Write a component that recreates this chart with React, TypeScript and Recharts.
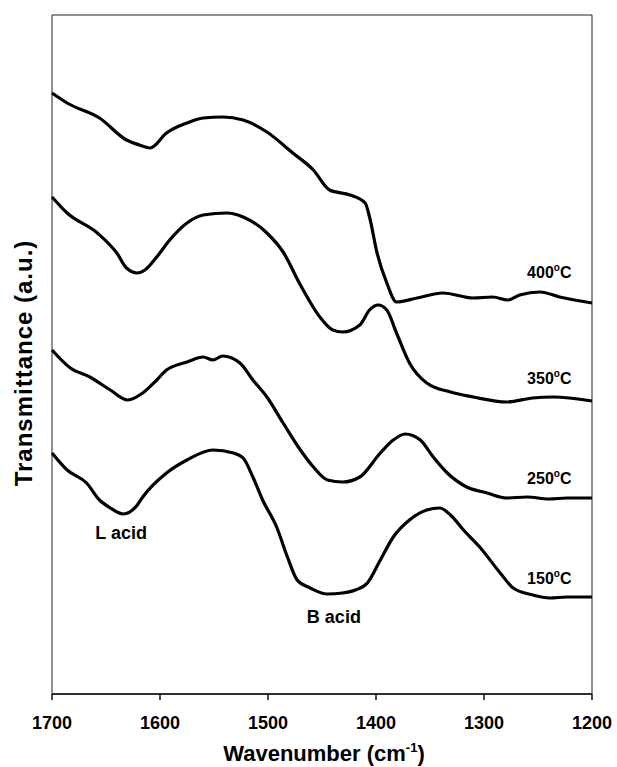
import { LineChart, Line, XAxis, YAxis, ReferenceDot, ReferenceArea } from "recharts";

// wavenumber (cm-1) and transmittance (a.u.)
const wn400 = [1700, 1686, 1656, 1631, 1619, 1609, 1594, 1575, 1560, 1542, 1523, 1501, 1477, 1458, 1443, 1424, 1410, 1406, 1399, 1390, 1381, 1362, 1338, 1310, 1292, 1278, 1267, 1248, 1230, 1200];
const t400 = [601, 591, 576, 554, 549, 546, 561, 571, 576, 577, 574, 562, 541, 524, 504, 499, 491, 477, 441, 411, 392, 396, 401, 396, 397, 394, 399, 402, 397, 391];

const wn350 = [1700, 1686, 1658, 1640, 1631, 1621, 1614, 1603, 1591, 1575, 1560, 1538, 1523, 1501, 1486, 1470, 1452, 1440, 1431, 1415, 1406, 1398, 1390, 1381, 1369, 1353, 1331, 1310, 1279, 1255, 1236, 1200];
const t350 = [497, 481, 461, 441, 426, 421, 424, 437, 454, 471, 479, 481, 477, 461, 442, 409, 377, 364, 362, 369, 384, 389, 384, 361, 331, 311, 302, 297, 292, 296, 297, 293];

const wn250 = [1700, 1683, 1665, 1646, 1630, 1616, 1603, 1594, 1575, 1560, 1551, 1542, 1526, 1514, 1501, 1486, 1470, 1458, 1445, 1431, 1415, 1396, 1384, 1373, 1359, 1347, 1334, 1316, 1297, 1279, 1260, 1240, 1223, 1200];
const t250 = [344, 326, 317, 304, 294, 301, 314, 324, 332, 337, 334, 338, 331, 314, 297, 271, 244, 227, 214, 212, 217, 241, 254, 260, 254, 237, 221, 207, 201, 196, 197, 195, 196, 196];

const wn150 = [1700, 1686, 1668, 1656, 1646, 1634, 1621, 1616, 1594, 1575, 1551, 1532, 1523, 1514, 1505, 1492, 1482, 1473, 1461, 1445, 1431, 1419, 1408, 1396, 1384, 1369, 1353, 1341, 1331, 1319, 1304, 1285, 1273, 1255, 1239, 1223, 1200];
const t150 = [241, 224, 211, 194, 186, 180, 189, 197, 221, 234, 244, 241, 236, 217, 194, 167, 137, 114, 106, 100, 101, 104, 111, 134, 157, 174, 184, 186, 179, 164, 147, 121, 106, 99, 96, 97, 97];

const xTicks = [1700, 1600, 1500, 1400, 1300, 1200];
const xDomain = [1200, 1700];
const yDomain = [0, 679];

const tempLabels = [
  { wn: 1219, t: 416, text: "400" },
  { wn: 1219, t: 310, text: "350" },
  { wn: 1219, t: 210, text: "250" },
  { wn: 1219, t: 110, text: "150" },
];

const acidLabels = [
  { wn: 1636, t: 155, text: "L acid" },
  { wn: 1439, t: 71, text: "B acid" },
];

const toRows = (wn: number[], t: number[]) => wn.map((w, i) => ({ wn: w, t: t[i] }));

const series = [
  { key: "400", rows: toRows(wn400, t400) },
  { key: "350", rows: toRows(wn350, t350) },
  { key: "250", rows: toRows(wn250, t250) },
  { key: "150", rows: toRows(wn150, t150) },
];

const FONT = "Liberation Sans, Arial, sans-serif";

function TempText(props: any) {
  const { cx, cy, text } = props;
  return (
    <text x={cx} y={cy} textAnchor="end" fontFamily={FONT} fontWeight="bold" fontSize={16} fill="#000">
      <tspan>{text}</tspan>
      <tspan fontSize={10} dy={-7}>o</tspan>
      <tspan dy={7}>C</tspan>
    </text>
  );
}

function AcidText(props: any) {
  const { cx, cy, text } = props;
  return (
    <text x={cx} y={cy} textAnchor="middle" fontFamily={FONT} fontWeight="bold" fontSize={18} fill="#000">
      {text}
    </text>
  );
}

function XTitle(props: any) {
  const { viewBox } = props;
  const x = viewBox.x + viewBox.width / 2 + 2;
  const y = viewBox.y + 67;
  return (
    <text x={x} y={y} textAnchor="middle" fontFamily={FONT} fontWeight="bold" fontSize={22} fill="#000">
      <tspan>Wavenumber (cm</tspan>
      <tspan fontSize={13} dy={-9}>-1</tspan>
      <tspan dy={9}>)</tspan>
    </text>
  );
}

// drawn beside the left edge, anchored on the y scale
function YTitle(props: any) {
  const { cx, cy } = props;
  const x = cx - 29;
  const y = cy;
  return (
    <text
      x={x}
      y={y}
      transform={`rotate(-90, ${x}, ${y})`}
      textAnchor="middle"
      dominantBaseline="central"
      fontFamily={FONT}
      fontWeight="bold"
      fontSize={24}
      letterSpacing={1}
      fill="#000"
    >
      Transmittance (a.u.)
    </text>
  );
}

export default function App() {
  return (
    <div style={{ width: 617, height: 767, background: "#fff" }}>
      <style>{`html, body { margin: 0; padding: 0; overflow: hidden; }`}</style>
      <LineChart width={617} height={767} margin={{ top: 15, right: 25, bottom: 43, left: 52 }}>
        <XAxis
          dataKey="wn"
          type="number"
          domain={xDomain}
          reversed
          ticks={xTicks}
          height={30}
          tickSize={6}
          tickMargin={16}
          stroke="#111"
          strokeWidth={1.5}
          tick={{ fill: "#000", fontSize: 18, fontWeight: "bold", fontFamily: FONT }}
          label={<XTitle />}
        />
        <YAxis type="number" domain={yDomain} hide />
        <ReferenceArea
          x1={1700}
          x2={1200}
          y1={0}
          y2={679}
          fill="none"
          fillOpacity={0}
          stroke="#222"
          strokeWidth={1}
        />
        {series.map((s) => (
          <Line
            key={s.key}
            data={s.rows}
            dataKey="t"
            type="monotone"
            stroke="#000"
            strokeWidth={3.2}
            dot={false}
            activeDot={false}
            isAnimationActive={false}
          />
        ))}
        {tempLabels.map((l) => (
          <ReferenceDot
            key={l.text}
            x={l.wn}
            y={l.t}
            r={0}
            shape={(p: any) => <TempText {...p} text={l.text} />}
          />
        ))}
        {acidLabels.map((l) => (
          <ReferenceDot
            key={l.text}
            x={l.wn}
            y={l.t}
            r={0}
            shape={(p: any) => <AcidText {...p} text={l.text} />}
          />
        ))}
        <ReferenceDot x={1700} y={331} r={0} shape={(p: any) => <YTitle {...p} />} />
      </LineChart>
    </div>
  );
}
